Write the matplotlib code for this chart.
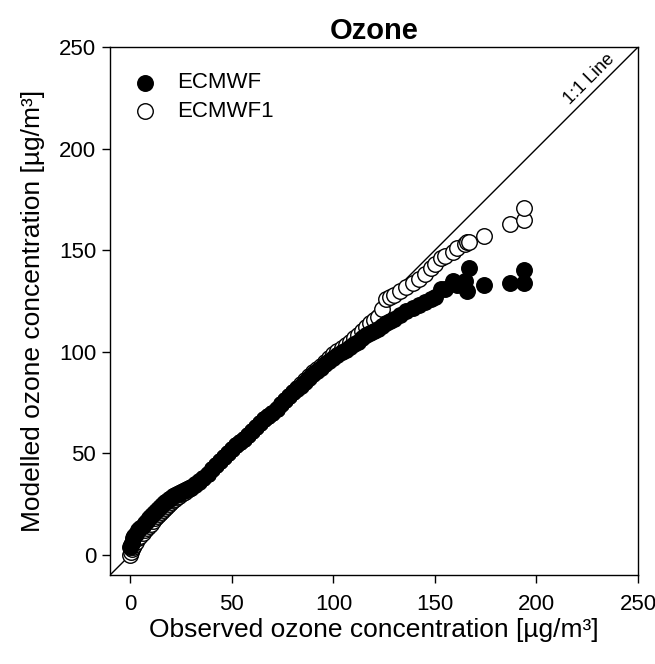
import matplotlib
matplotlib.use("Agg")
import matplotlib.pyplot as plt

plt.rcParams['font.family'] = ['Liberation Sans', 'DejaVu Sans']

# observed quantiles (shared by both runs)
obs = [0, 0.5, 1, 1.5, 2, 3, 4, 5, 6, 7, 8, 9, 10, 11, 12, 13, 14, 15, 16, 17,
       18, 19, 20, 21, 22, 23, 24, 25, 26, 27, 28, 29, 30, 32, 34, 36, 38, 40,
       42, 44, 46, 48, 50, 52, 54, 56, 58, 60, 62, 64, 66, 68, 70, 72, 74, 76,
       78, 80, 82, 84, 86, 88, 90, 92, 94, 96, 98, 100, 102, 104, 106, 108, 110,
       112, 114, 116, 118, 120, 122, 124, 126, 128, 130, 133, 136, 139, 142, 145,
       148, 150, 153, 155, 159, 161, 165, 166, 167, 174, 187, 194, 194]

# modelled quantiles, ECMWF (filled)
ecmwf = [4, 5, 6, 8, 9, 10, 12, 13, 14, 15.5, 16.5, 18, 19, 20, 21, 22, 23, 24,
         25, 26, 26.5, 27.5, 28, 29, 29.5, 30, 30.5, 31, 31.5, 32, 32.5, 33, 33.5,
         35, 36.5, 38, 40, 42, 44, 46, 48, 50, 52, 54, 55.5, 57, 59, 61, 63, 65,
         67, 68.5, 70, 72, 74, 76, 78, 80, 81.5, 83, 85, 87, 89, 90.5, 92, 94,
         95.5, 97, 98.5, 100, 101, 102.5, 104, 105, 106.5, 108, 109, 110, 111,
         112.5, 114, 115, 116, 118, 120, 121.5, 123, 124.5, 126, 127, 131, 131,
         135, 133, 135, 130, 141, 133, 134, 140, 134]

# modelled quantiles, ECMWF1 (open)
ecmwf1 = [0, 1.5, 3, 4, 5, 6.5, 8, 9, 10.5, 12, 13, 14, 15, 16.5, 18, 19, 20, 21,
          22, 23, 24, 25, 26, 27, 27.5, 28.5, 29, 30, 30.5, 31, 32, 32.5, 33,
          34.5, 36, 38, 40, 42, 44, 46, 48, 50, 52, 54, 55.5, 57, 59, 61, 63, 65,
          67, 68.5, 70, 72, 74, 76, 78, 80, 82, 84, 86, 88, 90, 91.5, 93, 95, 97,
          99, 100.5, 102, 103.5, 105, 106.5, 108, 110, 112, 114, 115.5, 117, 121,
          126, 127, 128, 130, 132, 134, 136, 138.5, 141, 143, 146, 147, 149, 151,
          153, 154, 154, 157, 163, 165, 171]

fig = plt.figure(figsize=(6.55, 6.64), dpi=100)
ax = fig.add_axes([0.168, 0.134, 0.806, 0.795])

ax.plot([-10, 250], [-10, 250], color='black', lw=1.0, zorder=1)

h1 = ax.scatter(obs, ecmwf1, s=125, facecolor='white', edgecolor='black',
                linewidth=1.0, zorder=2, label='ECMWF1')
h0 = ax.scatter(obs, ecmwf, s=125, facecolor='black', edgecolor='black',
                linewidth=1.0, zorder=3, label='ECMWF')

ax.text(226, 234, '1:1 Line', rotation=45, ha='center', va='center',
        fontsize=13)

ax.set_xlim(-10, 250)
ax.set_ylim(-10, 250)
ax.set_xticks([0, 50, 100, 150, 200, 250])
ax.set_yticks([0, 50, 100, 150, 200, 250])
ax.tick_params(labelsize=16, direction='out', length=6, width=1)
ax.tick_params(axis='x', pad=8)
ax.tick_params(axis='y', pad=4)
for s in ax.spines.values():
    s.set_linewidth(1.0)

ax.set_title('Ozone', fontsize=21, fontweight='bold', pad=6)
ax.set_xlabel('Observed ozone concentration [µg/m³]', fontsize=19, labelpad=2)
ax.set_ylabel('Modelled ozone concentration [µg/m³]', fontsize=19, labelpad=10)

ax.legend(handles=[h0, h1], loc='upper left', frameon=False, fontsize=16,
          bbox_to_anchor=(-0.013, 0.99), handletextpad=0.45, labelspacing=0.32)

fig.savefig('out.png', dpi=100)
